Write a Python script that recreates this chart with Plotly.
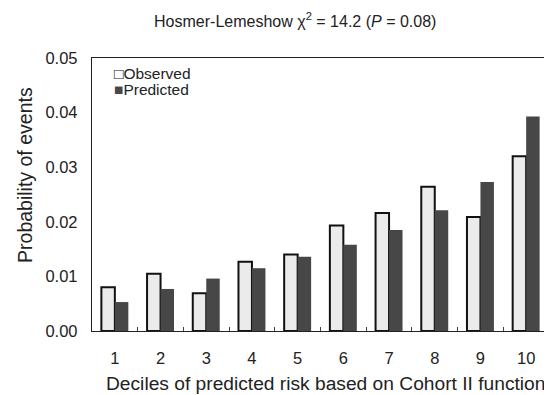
import plotly.graph_objects as go

deciles = ["1", "2", "3", "4", "5", "6", "7", "8", "9", "10"]
observed = [0.0080, 0.0105, 0.0069, 0.0127, 0.0140, 0.0193, 0.0216, 0.0264, 0.0209, 0.0320]
predicted = [0.0053, 0.0077, 0.0096, 0.0115, 0.0136, 0.0158, 0.0185, 0.0221, 0.0273, 0.0393]
y_ticks = [0.00, 0.01, 0.02, 0.03, 0.04, 0.05]

FONT = "Liberation Sans, Arial, sans-serif"
OBS_FILL = "#ebebeb"
PRED_FILL = "#474747"

fig = go.Figure()
fig.add_trace(go.Bar(x=deciles, y=observed, name="Observed", showlegend=False,
                     marker=dict(color=OBS_FILL, line=dict(color="#111111", width=2))))
fig.add_trace(go.Bar(x=deciles, y=predicted, name="Predicted", showlegend=False,
                     marker=dict(color=PRED_FILL, line=dict(width=0))))

# legend drawn as text, like the original
fig.add_annotation(xref="paper", yref="paper", x=0.043, y=0.945, xanchor="left", yanchor="middle",
                   text="<span style='color:#111111'>□</span>Observed", showarrow=False,
                   font=dict(size=15.5, family=FONT, color="#222222"))
fig.add_annotation(xref="paper", yref="paper", x=0.043, y=0.883, xanchor="left", yanchor="middle",
                   text=f"<span style='color:{PRED_FILL}'>■</span>Predicted", showarrow=False,
                   font=dict(size=15.5, family=FONT, color="#222222"))

# axis titles
fig.add_annotation(xref="paper", yref="paper", x=0.510, y=-0.194, xanchor="center", yanchor="middle",
                   text="Deciles of predicted risk based on Cohort II function", showarrow=False,
                   font=dict(size=19.2, family=FONT, color="#222222"))
fig.add_annotation(xref="paper", yref="paper", x=-0.147, y=0.571, xanchor="center", yanchor="middle",
                   text="Probability of events", textangle=-90, showarrow=False,
                   font=dict(size=19.5, family=FONT, color="#222222"))

fig.update_layout(
    width=544, height=387,
    margin=dict(l=84, r=3, t=50, b=64),
    paper_bgcolor="white", plot_bgcolor="white",
    font=dict(family=FONT, color="#222222", size=16),
    barmode="group", bargap=0.41, bargroupgap=0.0,
    title=dict(text="Hosmer-Lemeshow χ<sup>2</sup> = 14.2 (<i>P</i> = 0.08)",
               x=0.528, xanchor="center", y=0.966, yanchor="middle",
               font=dict(size=16, family=FONT)),
    showlegend=False,
)
fig.update_xaxes(
    showline=True, linecolor="#222222", linewidth=1.3, mirror=True,
    ticks="inside", ticklen=4, tickcolor="#444444", tickson="boundaries",
    ticklabelstandoff=12,
    showgrid=False, tickfont=dict(size=16.5),
)
fig.update_yaxes(
    range=[0, 0.05], tickvals=y_ticks, tickformat=".2f",
    showline=True, linecolor="#222222", linewidth=1.3, mirror=True,
    ticks="", showgrid=False, zeroline=False, tickfont=dict(size=16.5),
    ticklabelstandoff=10,
)

fig.write_html("out.html")
